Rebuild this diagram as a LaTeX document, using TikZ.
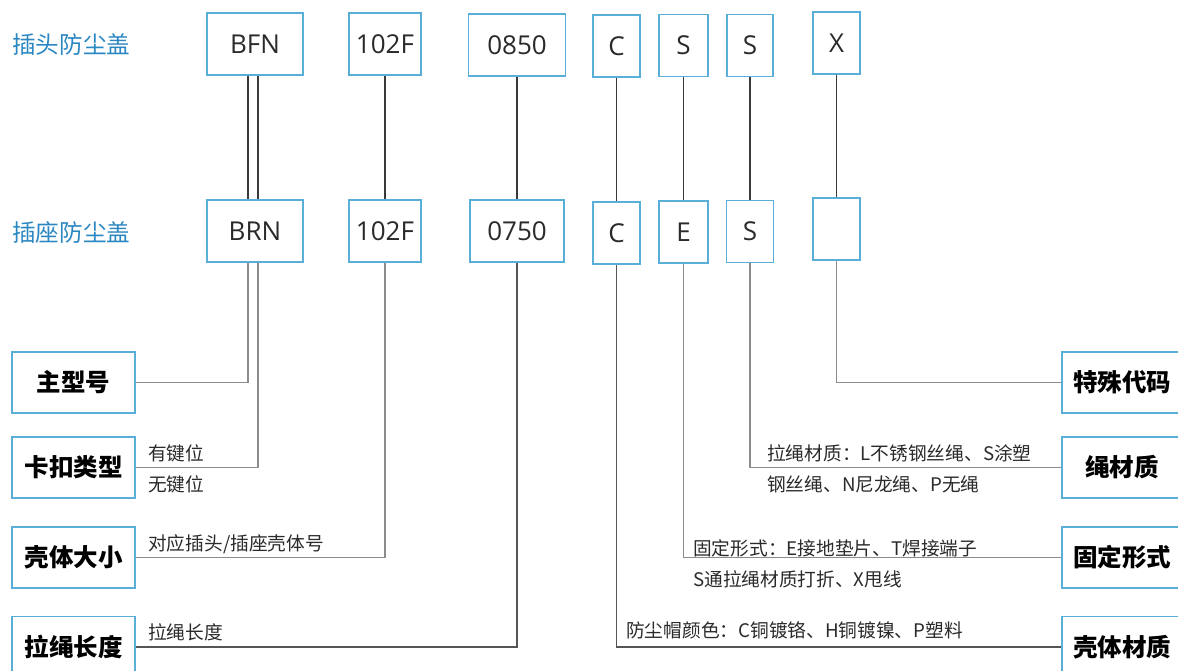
\documentclass[tikz,border=0pt]{standalone}
\usepackage{fontspec}
\setmainfont{Open Sans}
\newfontfamily\cjk{Noto Sans CJK SC}
\definecolor{boxblue}{HTML}{5AAFD8}
\definecolor{lblblue}{HTML}{2B87C2}
\definecolor{txt}{HTML}{2A2A2A}
\definecolor{darkline}{HTML}{3A3A3A}
\definecolor{grayline}{HTML}{8C8C8C}
\definecolor{midline}{HTML}{555555}
\tikzset{
  codebox/.style={draw=boxblue, line width=1.4pt, fill=white, inner sep=0pt,
    minimum height=62pt, font=\fontsize{26}{30}\selectfont, text=txt},
  catbox/.style={draw=boxblue, line width=1.4pt, fill=white, inner sep=0pt,
    minimum width=123pt, minimum height=61pt,
    font=\cjk\bfseries\fontsize{24.5}{28}\selectfont, text=black},
  rcatbox/.style={catbox, minimum width=120pt},
  rowlbl/.style={font=\cjk\fontsize{23.6}{27}\selectfont, text=lblblue, anchor=west, inner sep=0pt},
  note/.style={font=\cjk\fontsize{18.7}{22}\selectfont, text=txt, anchor=west, inner sep=0pt},
  link/.style={line width=1.4pt, draw=darkline},
  leader/.style={line width=1.3pt, draw=grayline},
  dleader/.style={line width=1.3pt, draw=midline}
}
\begin{document}
\begin{tikzpicture}[x=1pt,y=-1pt]
\clip (0,0) rectangle (1178,671);
\fill[white] (0,0) rectangle (1178,671);

% row labels
\node[rowlbl] (lblplug) at (12,45) {插头防尘盖};
\node[rowlbl] (lblsock) at (12,232) {插座防尘盖};

% top row
\node[codebox, minimum width=96pt] (t1) at (255,44) {BFN};
\node[codebox, minimum width=72pt] (t2) at (385,44) {102F};
\node[codebox, minimum width=97pt] (t3) at (517,45) {0850};
\node[codebox, minimum width=47pt] (t4) at (616.5,46) {C};
\node[codebox, minimum width=49pt] (t5) at (683.5,45.5) {S};
\node[codebox, minimum width=46pt] (t6) at (750,45.5) {S};
\node[codebox, minimum width=47pt] (t7) at (836.5,43) {X};

% bottom row
\node[codebox, minimum width=96pt] (b1) at (255,231) {BRN};
\node[codebox, minimum width=72pt] (b2) at (385,231) {102F};
\node[codebox, minimum width=94pt] (b3) at (517,231) {0750};
\node[codebox, minimum width=47pt] (b4) at (616.5,233) {C};
\node[codebox, minimum width=49pt] (b5) at (683.5,232) {E};
\node[codebox, minimum width=47pt] (b6) at (750,231.5) {S};
\node[codebox, minimum width=47pt] (b7) at (836.5,229) {};

% top-bottom links
\draw[link] ([xshift=-7pt]t1.south) -- ([xshift=-7pt]b1.north);
\draw[link] ([xshift=3pt]t1.south) -- ([xshift=3pt]b1.north);
\draw[link] (t2.south) -- (b2.north);
\draw[link] (t3.south) -- (b3.north);
\draw[link] (t4.south) -- (b4.north);
\draw[link] (t5.south) -- (b5.north);
\draw[link] (t6.south) -- (b6.north);
\draw[link] (t7.south) -- (b7.north);

% left categories
\node[catbox] (c1) at (73.5,382.5) {主型号};
\node[catbox] (c2) at (73.5,467.5) {卡扣类型};
\node[catbox] (c3) at (73.5,557.5) {壳体大小};
\node[catbox] (c4) at (73.5,647) {拉绳长度};

% right categories
\node[rcatbox] (r1) at (1122,382.5) {特殊代码};
\node[rcatbox] (r2) at (1122,467.5) {绳材质};
\node[rcatbox] (r3) at (1122,557.5) {固定形式};
\node[rcatbox] (r4) at (1122,647) {壳体材质};

% leaders left
\draw[leader] (c1.east) -| ([xshift=-7pt]b1.south);
\draw[leader] (c2.east) -| ([xshift=3pt]b1.south);
\draw[leader] (c3.east) -| (b2.south);
\draw[dleader] (c4.east) -| (b3.south);

% leaders right
\draw[leader] (r1.west) -| (b7.south);
\draw[leader] (r2.west) -| (b6.south);
\draw[leader] (r3.west) -| (b5.south);
\draw[dleader] (r4.west) -| (b4.south);

% notes
\node[note] (n1) at (148,453) {有键位};
\node[note] (n2) at (148,484) {无键位};
\node[note] (n3) at (148,544) {对应插头/插座壳体号};
\node[note] (n4) at (148,632) {拉绳长度};
\node[note] (n5) at (767,453) {拉绳材质：L不锈钢丝绳、S涂塑};
\node[note] (n6) at (767,484) {钢丝绳、N尼龙绳、P无绳};
\node[note] (n7) at (693,548) {固定形式：E接地垫片、T焊接端子};
\node[note] (n8) at (693,579) {S通拉绳材质打折、X甩线};
\node[note] (n9) at (626,630) {防尘帽颜色：C铜镀铬、H铜镀镍、P塑料};
\end{tikzpicture}
\end{document}
